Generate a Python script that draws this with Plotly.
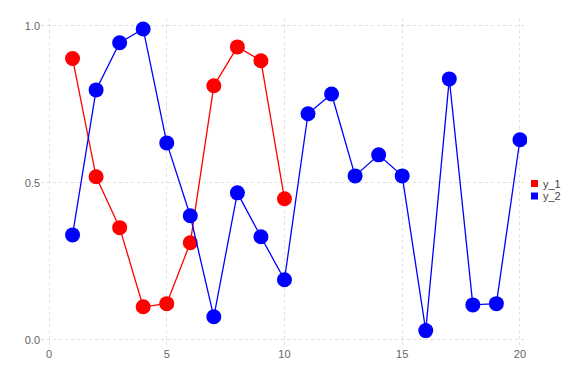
import plotly.graph_objects as go

x1 = list(range(1, 11))
y1 = [0.896, 0.519, 0.357, 0.105, 0.115, 0.309, 0.809, 0.933, 0.889, 0.449]
x2 = list(range(1, 21))
y2 = [0.334, 0.796, 0.946, 0.990, 0.627, 0.395, 0.073, 0.468, 0.328, 0.191,
      0.720, 0.783, 0.522, 0.589, 0.522, 0.029, 0.831, 0.111, 0.115, 0.637]
names = ["y_1", "y_2"]
colors = ["#ff0000", "#0000ff"]
xticks = [0, 5, 10, 15, 20]
yticks = [0.0, 0.5, 1.0]

fig = go.Figure()
for xs, ys, nm, c in [(x1, y1, names[0], colors[0]), (x2, y2, names[1], colors[1])]:
    fig.add_trace(go.Scatter(x=xs, y=ys, mode="lines+markers", name=nm,
                             line=dict(color=c, width=1.3),
                             marker=dict(color=c, size=15, line=dict(width=0)),
                             showlegend=False))

# legend drawn as squares + text to the right of the plot area
L, R, T, B = 41, 527, 18, 346
W, H = R - L, B - T
def px(x): return (x - L) / W
def py(y): return (B - y) / H
for i, (nm, c) in enumerate(zip(names, colors)):
    cy = 183.5 + 12.5 * i
    fig.add_shape(type="rect", xref="paper", yref="paper",
                  x0=px(531), x1=px(538), y0=py(cy + 3.5), y1=py(cy - 3.5),
                  fillcolor=c, line=dict(width=0))
    fig.add_annotation(xref="paper", yref="paper", x=px(541), y=py(cy),
                       xanchor="left", yanchor="middle", text=nm, showarrow=False,
                       font=dict(family="Liberation Sans, Arial", size=11, color="#444444"))

axis_common = dict(showgrid=True, gridcolor="rgba(0,0,0,0.12)", griddash="dot",
                   gridwidth=1, zeroline=False, showline=False, ticks="",
                   tickfont=dict(family="Liberation Sans, Arial", size=11, color="#666666"))
fig.update_layout(
    width=576, height=384,
    margin=dict(l=L, r=576 - R, t=T, b=384 - B, autoexpand=False),
    paper_bgcolor="white", plot_bgcolor="white",
    xaxis=dict(range=[-0.34, 20.3], tickvals=xticks, **axis_common),
    yaxis=dict(range=[-0.02, 1.025], tickvals=yticks, tickformat=".1f", **axis_common),
    showlegend=False,
)
fig.write_html("out.html")
